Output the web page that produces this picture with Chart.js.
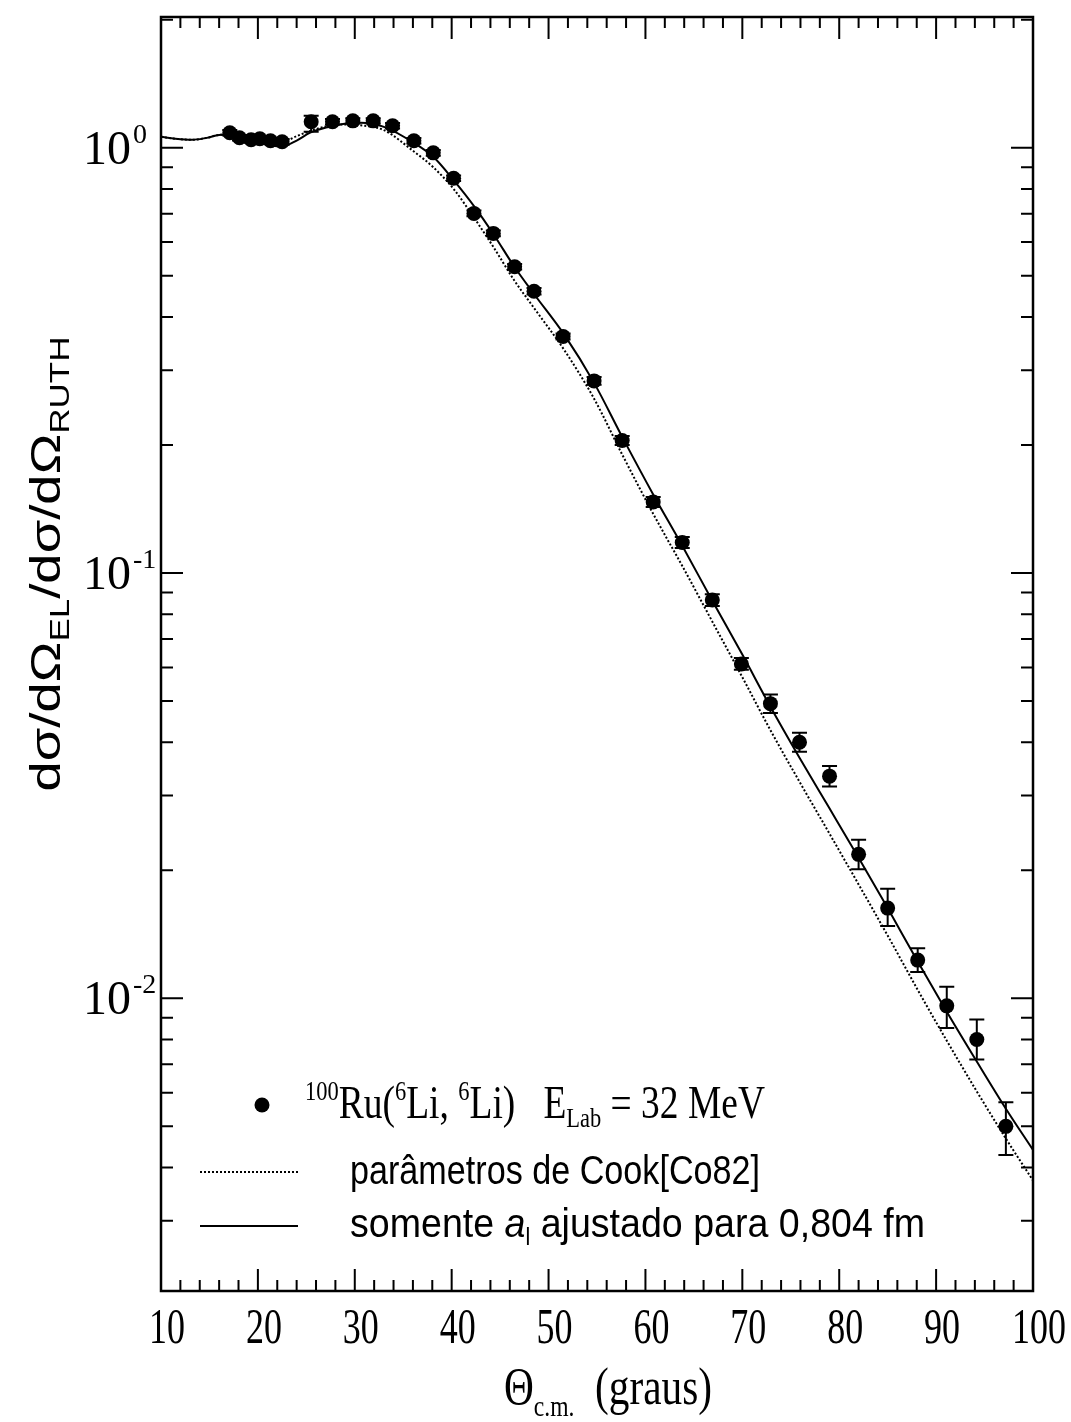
<!DOCTYPE html>
<html>
<head>
<meta charset="utf-8">
<script src="https://cdn.jsdelivr.net/npm/chart.js@4.4.0/dist/chart.umd.min.js"></script>
<style>
  html, body { margin: 0; padding: 0; background: #fff; }
  #wrap { width: 1071px; height: 1422px; }
</style>
</head>
<body>
<div id="wrap"><canvas id="chart"></canvas></div>
<script>
// measured points, 100Ru(6Li,6Li) at 32 MeV
const angles = [17.1, 18.1, 19.3, 20.2, 21.3, 22.5, 25.5, 27.7, 29.8, 31.9, 33.9, 36.1, 38.1,
  40.2, 42.3, 44.3, 46.5, 48.5, 51.5, 54.7, 57.6, 60.8, 63.8, 66.9, 69.9, 72.9, 75.9, 79.0,
  82.0, 85.0, 88.1, 91.1, 94.2, 97.2];
const ratio = [1.085, 1.056, 1.044, 1.05, 1.039, 1.033, 1.151, 1.151, 1.157, 1.157, 1.127, 1.039, 0.973,
  0.848, 0.701, 0.629, 0.525, 0.460, 0.360, 0.283, 0.205, 0.147, 0.118, 0.0864, 0.0611, 0.0493, 0.0400, 0.0333,
  0.0218, 0.0163, 0.0123, 0.0096, 0.0080, 0.0050];
const errLow = [1.069, 1.040, 1.028, 1.034, 1.023, 1.017, 1.09, 1.134, 1.140, 1.140, 1.110, 1.023, 0.958,
  0.835, 0.690, 0.619, 0.517, 0.452, 0.354, 0.277, 0.200, 0.143, 0.1145, 0.0836, 0.0592, 0.0469, 0.0380, 0.0315,
  0.0201, 0.0148, 0.01153, 0.00852, 0.00718, 0.00428];
const errHigh = [1.101, 1.072, 1.060, 1.066, 1.055, 1.049, 1.19, 1.168, 1.174, 1.174, 1.144, 1.055, 0.988,
  0.861, 0.712, 0.639, 0.533, 0.468, 0.366, 0.289, 0.210, 0.151, 0.1215, 0.0892, 0.0631, 0.0518, 0.0421, 0.0352,
  0.0236, 0.0181, 0.01312, 0.01064, 0.00891, 0.00570];

// optical model curves
const fitAngles = [10, 11.5, 13.2, 14.7, 16.2, 17.5, 18.9, 20.5, 22.5, 24, 25.4, 27.2, 29.1, 30.6, 33,
  36.1, 38.1, 40.2, 42.4, 44.4, 46.4, 48.5, 51.6, 54.7, 57.6, 60.8, 63.8, 66.9, 70, 72.9, 75.9, 78.9,
  82, 85, 88.1, 91.1, 94.2, 97.2, 100];
const fitAdjusted = [1.061, 1.05, 1.044, 1.055, 1.073, 1.065, 1.044, 1.022, 1.007, 1.04, 1.085, 1.118, 1.14,
  1.145, 1.12, 1.027, 0.952, 0.839, 0.724, 0.622, 0.528, 0.453, 0.364, 0.280, 0.209, 0.153, 0.1159, 0.0861,
  0.0643, 0.0485, 0.0368, 0.0282, 0.0214, 0.0163, 0.0122, 0.0093, 0.0071, 0.0055, 0.0044];
const fitCook = [1.061, 1.05, 1.044, 1.055, 1.073, 1.065, 1.044, 1.025, 1.03, 1.065, 1.095, 1.125, 1.135,
  1.13, 1.10, 0.98, 0.90, 0.80, 0.68, 0.58, 0.49, 0.42, 0.335, 0.257, 0.190, 0.1378, 0.1039, 0.0769,
  0.0569, 0.0427, 0.0323, 0.0246, 0.01853, 0.01405, 0.01047, 0.00795, 0.00604, 0.00468, 0.00373];

const xTicks = [10, 20, 30, 40, 50, 60, 70, 80, 90, 100];
const yDecades = [1, 0.1, 0.01];
const yExponents = ['0', '-1', '-2'];

const SERIF = '"Liberation Serif", "Times New Roman", serif';
const SANS = '"Liberation Sans", Arial, sans-serif';

// draw a run of text pieces, squeezed/stretched to a given width if asked
function drawRun(ctx, pieces, x, y, opts) {
  opts = opts || {};
  ctx.save();
  let w = 0;
  pieces.forEach(p => { ctx.font = p.font; w += ctx.measureText(p.t).width; });
  const sx = opts.width ? opts.width / w : 1;
  const sy = opts.sy || 1;
  ctx.translate(x, y);
  if (opts.rotate) ctx.rotate(opts.rotate);
  if (opts.center) ctx.translate(-w * sx / 2, 0);
  ctx.scale(sx, sy);
  ctx.fillStyle = '#000';
  ctx.textAlign = 'left';
  ctx.textBaseline = 'alphabetic';
  let cx = 0;
  pieces.forEach(p => {
    ctx.font = p.font;
    ctx.fillText(p.t, cx, (p.dy || 0) / sy);
    cx += ctx.measureText(p.t).width;
  });
  ctx.restore();
}

const axesPlugin = {
  id: 'axesPlugin',
  afterDatasetsDraw(chart) {
    const { ctx, chartArea: a } = chart;
    const xs = chart.scales.x, ys = chart.scales.y;
    ctx.save();
    ctx.strokeStyle = '#000';
    ctx.fillStyle = '#000';

    // error bars
    ctx.lineWidth = 2;
    angles.forEach((ang, i) => {
      const px = xs.getPixelForValue(ang);
      const y1 = ys.getPixelForValue(errLow[i]);
      const y2 = ys.getPixelForValue(errHigh[i]);
      ctx.beginPath();
      ctx.moveTo(px, y1); ctx.lineTo(px, y2);
      ctx.moveTo(px - 7.5, y1); ctx.lineTo(px + 7.5, y1);
      ctx.moveTo(px - 7.5, y2); ctx.lineTo(px + 7.5, y2);
      ctx.stroke();
    });

    // frame
    ctx.lineWidth = 2.5;
    ctx.strokeRect(a.left, a.top, a.right - a.left, a.bottom - a.top);

    // ticks, inside on all four sides
    ctx.lineWidth = 2;
    ctx.beginPath();
    for (let v = 10; v <= 100; v += 2) {
      const px = xs.getPixelForValue(v);
      const len = v % 10 === 0 ? 22 : 11;
      ctx.moveTo(px, a.bottom); ctx.lineTo(px, a.bottom - len);
      ctx.moveTo(px, a.top); ctx.lineTo(px, a.top + len);
    }
    for (let k = -3; k <= 0; k++) {
      for (let m = 1; m <= 9; m++) {
        const val = m * Math.pow(10, k);
        if (val < ys.min || val > ys.max) continue;
        const py = ys.getPixelForValue(val);
        const len = m === 1 ? 22 : 12;
        ctx.moveTo(a.left, py); ctx.lineTo(a.left + len, py);
        ctx.moveTo(a.right, py); ctx.lineTo(a.right - len, py);
      }
    }
    ctx.stroke();

    // x tick labels
    xTicks.forEach(v => {
      const px = xs.getPixelForValue(v);
      ctx.save();
      ctx.translate(px + 6, 1343);
      ctx.scale(1, 1.4);
      ctx.font = '36px ' + SERIF;
      ctx.textAlign = 'center';
      ctx.fillText(String(v), 0, 0);
      ctx.restore();
    });

    // y tick labels 10^k
    yDecades.forEach((v, i) => {
      const py = ys.getPixelForValue(v);
      ctx.font = '48px ' + SERIF;
      ctx.textAlign = 'right';
      ctx.fillText('10', 131, py + 16);
      ctx.font = '28px ' + SERIF;
      ctx.textAlign = 'left';
      ctx.fillText(yExponents[i], 133, py - 5);
    });

    // x title
    drawRun(ctx, [
      { t: '\u0398', font: '42px ' + SERIF },
      { t: 'c.m.', font: '24px ' + SERIF, dy: 12 },
      { t: '  (graus)', font: '42px ' + SERIF }
    ], 504, 1404, { width: 208, sy: 1.25 });

    // y title
    drawRun(ctx, [
      { t: 'd\u03c3/d\u03a9', font: '42px ' + SANS },
      { t: 'EL', font: '27px ' + SANS, dy: 9 },
      { t: '/d\u03c3/d\u03a9', font: '42px ' + SANS },
      { t: 'RUTH', font: '27px ' + SANS, dy: 9 }
    ], 60, 564, { rotate: -Math.PI / 2, center: true, width: 455 });

    // legend
    ctx.beginPath();
    ctx.arc(262, 1105, 7.5, 0, Math.PI * 2);
    ctx.fill();
    drawRun(ctx, [
      { t: '100', font: '24px ' + SERIF, dy: -18 },
      { t: 'Ru(', font: '40px ' + SERIF },
      { t: '6', font: '24px ' + SERIF, dy: -18 },
      { t: 'Li, ', font: '40px ' + SERIF },
      { t: '6', font: '24px ' + SERIF, dy: -18 },
      { t: 'Li)   E', font: '40px ' + SERIF },
      { t: 'Lab', font: '24px ' + SERIF, dy: 9 },
      { t: ' = 32 MeV', font: '40px ' + SERIF }
    ], 305, 1118, { width: 460, sy: 1.15 });

    ctx.lineWidth = 2;
    ctx.setLineDash([2, 2]);
    ctx.beginPath(); ctx.moveTo(200, 1172); ctx.lineTo(298, 1172); ctx.stroke();
    ctx.setLineDash([]);
    ctx.beginPath(); ctx.moveTo(200, 1226); ctx.lineTo(298, 1226); ctx.stroke();

    drawRun(ctx, [
      { t: 'par\u00e2metros de Cook[Co82]', font: '35px ' + SANS }
    ], 350, 1184, { width: 410, sy: 1.15 });
    drawRun(ctx, [
      { t: 'somente ', font: '35px ' + SANS },
      { t: 'a', font: 'italic 35px ' + SANS },
      { t: 'l', font: '20px ' + SANS, dy: 8 },
      { t: ' ajustado para 0,804 fm', font: '35px ' + SANS }
    ], 350, 1237, { width: 575, sy: 1.15 });

    ctx.restore();
  }
};

const ctx = document.getElementById('chart');

const config = {
  type: 'scatter',
  data: {
    datasets: [{
      label: 'dados',
      data: angles.map((a, i) => ({ x: a, y: ratio[i] })),
      pointRadius: 7.5,
      pointBackgroundColor: '#000',
      pointBorderWidth: 0,
      showLine: false
    }, {
      label: 'somente a ajustado',
      data: fitAngles.map((a, i) => ({ x: a, y: fitAdjusted[i] })),
      showLine: true,
      pointRadius: 0,
      borderColor: '#000',
      borderWidth: 2,
      cubicInterpolationMode: 'monotone'
    }, {
      label: 'Cook',
      data: fitAngles.map((a, i) => ({ x: a, y: fitCook[i] })),
      showLine: true,
      pointRadius: 0,
      borderColor: '#000',
      borderWidth: 2,
      borderDash: [2, 2],
      cubicInterpolationMode: 'monotone'
    }]
  },
  options: {
    responsive: true,
    maintainAspectRatio: false,
    animation: false,
    layout: { padding: { left: 161, top: 17, right: 38, bottom: 131 } },
    plugins: {
      legend: { display: false },
      tooltip: { enabled: false }
    },
    scales: {
      x: { type: 'linear', min: 10, max: 100, display: false },
      y: { type: 'logarithmic', min: 0.00205, max: 2.03, display: false }
    }
  },
  plugins: [axesPlugin]
};

new Chart(ctx, config);
</script>
</body>
</html>
